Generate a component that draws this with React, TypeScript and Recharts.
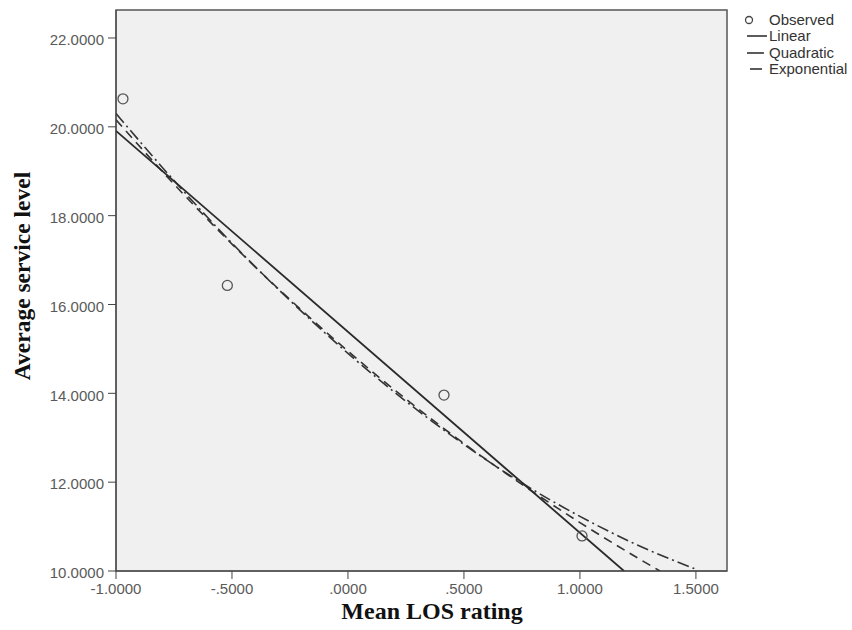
import React from "react";
import {
  CartesianGrid,
  ComposedChart,
  Line,
  ReferenceArea,
  Scatter,
  XAxis,
  YAxis,
} from "recharts";

// observed points
const observedX = [-0.97, -0.52, 0.414, 1.009];
const observedY = [20.63, 16.43, 13.96, 10.79];

// fitted curves
const linearX = [-1.0, 1.19];
const linearY = [19.91, 10.0];

const quadraticX = [-1.0, -0.75, -0.5, -0.25, 0, 0.25, 0.5, 0.75, 1.0, 1.25, 1.5];
const quadraticY = [20.3, 18.79, 17.38, 16.09, 14.9, 13.82, 12.85, 11.98, 11.23, 10.58, 10.04];

const exponentialX = [-1.0, -0.75, -0.5, -0.25, 0, 0.25, 0.5, 0.75, 1.0, 1.25, 1.345];
const exponentialY = [20.16, 18.71, 17.36, 16.11, 14.95, 13.87, 12.87, 11.95, 11.09, 10.29, 10.0];

const xTicks = [-1, -0.5, 0, 0.5, 1, 1.5];
const yTicks = [10, 12, 14, 16, 18, 20, 22];
const xDomain: [number, number] = [-1, 1.634];
const yDomain: [number, number] = [10, 22.63];

const legendItems = ["Observed", "Linear", "Quadratic", "Exponential"];

const zip = (xs: number[], ys: number[]) => xs.map((x, i) => ({ x, y: ys[i] }));

const observed = zip(observedX, observedY);
const linear = zip(linearX, linearY);
const quadratic = zip(quadraticX, quadraticY);
const exponential = zip(exponentialX, exponentialY);

// SPSS style: 4 decimals, no leading zero
const fmt = (v: number) => {
  const s = Math.abs(v).toFixed(4).replace(/^0/, "");
  return (v < 0 ? "-" : "") + s;
};

const tickStyle = {
  fontFamily: "'Liberation Sans', Arial, sans-serif",
  fontSize: 15,
  fill: "#5a5a5a",
};

const titleStyle = {
  fontFamily: "'Liberation Serif', 'Times New Roman', serif",
  fontWeight: 700,
  fontSize: 24,
  fill: "#111",
};

const Circle = (props: any) => (
  <circle cx={props.cx} cy={props.cy} r={5} fill="none" stroke="#555" strokeWidth={1.3} />
);

const LegendIcon = ({ name }: { name: string }) => {
  if (name === "Observed")
    return (
      <svg width={28} height={16}>
        <circle cx={9} cy={8} r={3.5} fill="none" stroke="#444" strokeWidth={1.3} />
      </svg>
    );
  const dims: Record<string, [number, number]> = {
    Linear: [7, 27],
    Quadratic: [7, 24],
    Exponential: [10, 22],
  };
  const [a, b] = dims[name];
  return (
    <svg width={28} height={16}>
      <line x1={a} x2={b} y1={8} y2={8} stroke="#333" strokeWidth={1.6} />
    </svg>
  );
};

const App: React.FC = () => {
  return (
    <div style={{ position: "absolute", left: 0, top: 0, width: 852, height: 630, background: "#fff" }}>
      <ComposedChart
        width={852}
        height={630}
        margin={{ top: 10, right: 125, left: 0, bottom: 0 }}
      >
        <CartesianGrid fill="#f0f0f0" horizontal={false} vertical={false} />
        <ReferenceArea
          x1={xDomain[0]}
          x2={xDomain[1]}
          y1={yDomain[0]}
          y2={yDomain[1]}
          fill="none"
          fillOpacity={0}
          stroke="#555"
          strokeWidth={1.5}
        />
        <XAxis
          dataKey="x"
          type="number"
          domain={xDomain}
          ticks={xTicks}
          tickFormatter={fmt}
          allowDataOverflow
          height={59}
          stroke="#444"
          tickSize={8}
          tickMargin={4}
          tick={tickStyle}
          label={{
            content: () => (
              <text x={432} y={619} textAnchor="middle" style={titleStyle}>
                Mean LOS rating
              </text>
            ),
          }}
        />
        <YAxis
          dataKey="y"
          type="number"
          domain={yDomain}
          ticks={yTicks}
          tickFormatter={fmt}
          allowDataOverflow
          width={116}
          stroke="#444"
          tickSize={8}
          tickMargin={4}
          tick={{ ...tickStyle, dy: 2 }}
          label={{
            content: () => (
              <text
                x={30}
                y={276}
                textAnchor="middle"
                transform="rotate(-90, 30, 276)"
                style={{ ...titleStyle, fontSize: 23.5 }}
              >
                Average service level
              </text>
            ),
          }}
        />
        <Line
          data={exponential}
          dataKey="y"
          type="monotone"
          stroke="#333"
          strokeWidth={1.6}
          strokeDasharray="9 6"
          dot={false}
          isAnimationActive={false}
        />
        <Line
          data={quadratic}
          dataKey="y"
          type="monotone"
          stroke="#333"
          strokeWidth={1.6}
          strokeDasharray="12 4 2 4"
          dot={false}
          isAnimationActive={false}
        />
        <Line
          data={linear}
          dataKey="y"
          type="linear"
          stroke="#2a2a2a"
          strokeWidth={1.8}
          dot={false}
          isAnimationActive={false}
        />
        <Scatter data={observed} dataKey="y" shape={Circle} isAnimationActive={false} />
      </ComposedChart>
      <div
        style={{
          position: "absolute",
          left: 740,
          top: 12,
          fontFamily: "'Liberation Sans', Arial, sans-serif",
          fontSize: 15,
          color: "#333",
          lineHeight: "16.3px",
          whiteSpace: "nowrap",
        }}
      >
        {legendItems.map((name) => (
          <div key={name} style={{ display: "flex", alignItems: "center", height: 16.3 }}>
            <LegendIcon name={name} />
            <span style={{ marginLeft: 1 }}>{name}</span>
          </div>
        ))}
      </div>
    </div>
  );
};

export default App;
